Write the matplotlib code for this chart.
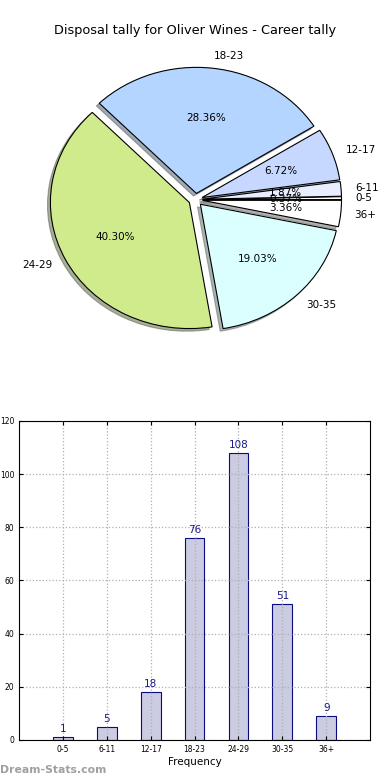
import matplotlib
matplotlib.use('Agg')
import matplotlib.pyplot as plt

# disposal tally by age bracket
brackets = ['0-5', '6-11', '12-17', '18-23', '24-29', '30-35', '36+']
counts = [1, 5, 18, 76, 108, 51, 9]
pie_colors = ['#ffffff', '#e8eeff', '#c6d8ff', '#b3d5ff', '#d0eb8c', '#dbffff', '#ffffff']

fig = plt.figure(figsize=(3.9, 7.8), dpi=100)

# pie, old-style elliptical (no equal aspect)
ax1 = fig.add_axes([0.056, 0.542, 0.891, 0.404])
explode = [0.05] * len(counts)
wedges, texts, autotexts = ax1.pie(counts, labels=brackets, colors=pie_colors,
                                   explode=explode, autopct='%1.2f%%',
                                   shadow={'ox': -0.015, 'oy': -0.015, 'shade': 0.6},
                                   startangle=0,
                                   wedgeprops={'edgecolor': 'black', 'linewidth': 0.8})
for t in texts + autotexts:
    t.set_fontsize(7.5)
ax1.set_aspect('auto')
ax1.set_xlim(-1.25, 1.25)
ax1.set_ylim(-1.25, 1.25)
fig.text(0.5, 0.961, 'Disposal tally for Oliver Wines - Career tally',
         ha='center', va='center', fontsize=9.3)

# bar chart
ax2 = fig.add_axes([0.049, 0.0513, 0.9, 0.409])
xs = list(range(len(counts)))
ax2.bar(xs, counts, width=0.45, color='#cbcbe2', edgecolor='#0a0a80', linewidth=0.8)
for x, c in zip(xs, counts):
    ax2.text(x, c + 1.2, str(c), ha='center', va='bottom', fontsize=7.5, color='#1a1a8a')
ax2.set_xlim(-1, 7)
ax2.set_ylim(0, 120)
ax2.set_xticks(xs)
ax2.set_xticklabels(brackets)
ax2.set_yticks(range(0, 121, 20))
ax2.tick_params(labelsize=5.5, direction='in', top=True, right=True, length=3)
ax2.grid(True, linestyle=':', color='#b0b0b0', linewidth=0.9)
ax2.set_xlabel('Frequency', fontsize=7.5, labelpad=2)

fig.text(0.0, 0.013, 'Dream-Stats.com', fontsize=7.8, color='#a0a0a0',
         fontweight='bold', ha='left', va='center')

fig.savefig('out.png', dpi=100)
